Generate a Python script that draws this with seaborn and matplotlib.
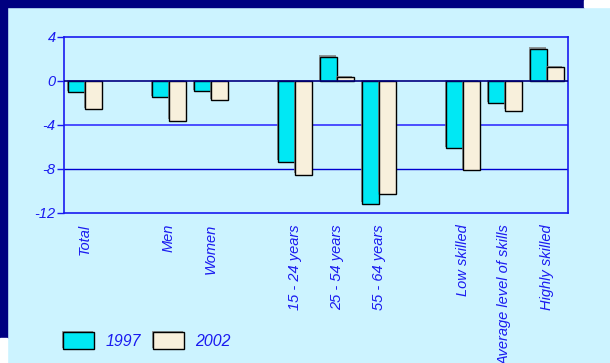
import numpy as np
import matplotlib.pyplot as plt
import matplotlib.patheffects as pe
from matplotlib.patches import Rectangle
import seaborn as sns
import pandas as pd

groups = ["Total", " ", "Men", "Women", "  ", "15 - 24 years", "25 - 54 years",
          "55 - 64 years", "   ", "Low skilled", "Average level of skills", "Highly skilled"]
cats = ["Total", "Men", "Women", "15 - 24 years", "25 - 54 years", "55 - 64 years",
        "Low skilled", "Average level of skills", "Highly skilled"]
v1997 = [-1.0, -1.45, -0.95, -7.35, 2.2, -11.15, -6.1, -2.0, 2.95]
v2002 = [-2.55, -3.6, -1.75, -8.5, 0.35, -10.25, -8.1, -2.7, 1.25]

df = pd.DataFrame({
    "cat": cats * 2,
    "value": v1997 + v2002,
    "year": ["1997"] * len(cats) + ["2002"] * len(cats),
})

bg = "#CCF3FF"
blue = "#1A1AF0"
navy = "#000080"

sns.set_style("white")
plt.rcParams["font.family"] = ["Liberation Sans", "DejaVu Sans"]

fig = plt.figure(figsize=(6.1, 3.63), dpi=100, facecolor=bg)
# frame bands
fig.patches.append(Rectangle((0, 356 / 363), 584 / 610, 7 / 363, transform=fig.transFigure,
                             color=navy, zorder=0))
fig.patches.append(Rectangle((584 / 610, 356 / 363), 26 / 610, 7 / 363, transform=fig.transFigure,
                             color="white", zorder=0))
fig.patches.append(Rectangle((0, 25 / 363), 7 / 610, 338 / 363, transform=fig.transFigure,
                             color=navy, zorder=0))
fig.patches.append(Rectangle((0, 0), 7 / 610, 25 / 363, transform=fig.transFigure,
                             color="white", zorder=0))

ax = fig.add_axes([64 / 610, 150 / 363, 504 / 610, 176 / 363])
ax.set_facecolor(bg)

sns.barplot(data=df, x="cat", y="value", hue="year", order=groups,
            palette=["#00E8F4", "#F8F0DC"], edgecolor="black", linewidth=1,
            saturation=1, width=0.8, ax=ax, zorder=3, legend=True)

for p in ax.patches:
    p.set_path_effects([pe.SimplePatchShadow(offset=(-1, 1), shadow_rgbFace="#808080", alpha=0.8),
                        pe.Normal()])

ax.axhline(0, color=navy, lw=1.2, zorder=4)
ax.axhline(-4, color="#4040FF", lw=1.3, zorder=1)
ax.axhline(-8, color="#0000D0", lw=1.0, zorder=1)

ax.set_ylim(-12, 4)
ax.set_xlim(-0.5, len(groups) - 0.5)
ax.set_yticks([4, 0, -4, -8, -12])
ax.set_yticklabels(["4", "0", "-4", "-8", "-12"], fontsize=10.5, style="italic", color=blue)
ax.tick_params(axis="y", length=5, width=1, color=blue, pad=1, left=True)
ax.set_xticks(range(len(groups)))
ax.set_xticklabels([g.strip() for g in groups], rotation=90, fontsize=10.5,
                   style="italic", color=blue, va="top", ha="center")
ax.tick_params(axis="x", length=0, pad=8)
ax.set_xlabel("")
ax.set_ylabel("")
for s in ax.spines.values():
    s.set_color(blue)
    s.set_linewidth(1.2)
    s.set_visible(True)

handles, labels = ax.get_legend_handles_labels()
ax.legend_.remove()
leg = fig.legend(handles, labels, loc="lower left", bbox_to_anchor=(52 / 610, 3 / 363),
                 ncol=2, frameon=False, handlelength=1.96, handleheight=1.25,
                 handletextpad=0.72, columnspacing=0.75, borderpad=0.2,
                 prop={"size": 11.4, "style": "italic"})
for t in leg.get_texts():
    t.set_color(blue)

fig.savefig("out.png", dpi=100, facecolor=bg)
